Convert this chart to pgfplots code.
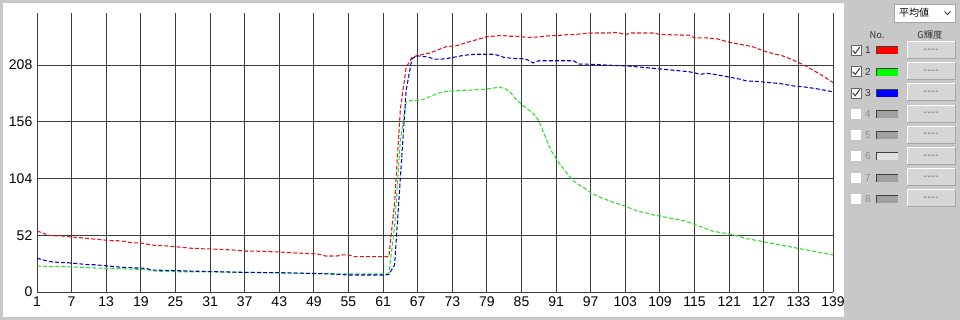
\documentclass[border=0pt]{standalone}
\usepackage{fontspec}
\setmainfont{Liberation Sans}
\newfontfamily\jp{Noto Sans CJK JP}
\usepackage{pgfplots}
\pgfplotsset{compat=1.18}
\definecolor{panel}{RGB}{200,200,200}
\definecolor{lred}{RGB}{225,20,20}
\definecolor{lgreen}{RGB}{40,225,40}
\definecolor{lblue}{RGB}{0,0,200}
\definecolor{gridc}{RGB}{60,60,60}
\begin{document}
\begin{tikzpicture}
\useasboundingbox (0,0) rectangle (720pt,240pt);
\fill[panel] (0,0) rectangle (720pt,240pt);
\fill[white] (2.25pt,2.25pt) rectangle (633pt,237.75pt);
\begin{axis}[
  at={(27.75pt,21pt)}, anchor=south west,
  scale only axis, width=597pt, height=209.4pt,
  xmin=1, xmax=139, ymin=0, ymax=256,
  xtick={1,7,...,139}, ytick={0,52,104,156,208},
  grid=major, major grid style={gridc, line width=0.7pt},
  axis line style={draw=none},
  major tick length=0pt,
  tick label style={font=\fontsize{10.5}{11}\selectfont},
  /pgf/number format/assume math mode=true,
  every axis plot/.append style={line width=0.8pt, dash pattern=on 3pt off 1.6pt},
]
\addplot[lred] coordinates {
(1,56)(2,54)(3,52)(4,51.5)(5,51.5)(6,51)(7,50.5)(8,50)(9,49.5)(10,49)(11,48.5)(12,48)(13,47.5)(14,47)(15,47)(16,46.5)(17,45.5)(18,45)(19,45)(20,44)(21,43)(22,42.5)(23,42.5)(24,42)(25,41.5)(26,41)(27,40.5)(28,40)(29,40)(30,39.5)(31,39.5)(33,39)(35,38.5)(37,37.6)(39,37.5)(41,37)(43,36.7)(45,36)(47,35.5)(49,35)(50,34.5)(51,33)(53,33)(54,34)(55,34)(56,32.5)(58,32.4)(60,32.4)(62,32.4)
(63,82)(64,168)(65,206)(66,215)(67,217)(68,218)(69,219)(70,221)(71,223)(72,225)(73,225.5)(74,226)(75,228)(76,229.5)(77,231)(78,232.5)(79,234)(80,234.5)(81,235)(82,235)(83,234.5)(84,234.5)(85,234)(86,233.5)(87,233.5)(88,234)(89,234.5)(90,235)(91,235)(92,235.5)(93,236)(94,236)(95,236.5)(96,237)(97,237.5)(98,237.5)(100,237.5)(101,238)(102,237.5)(103,236)(104,237.5)(106,237.5)(108,237.5)(109,236)(110,236)(112,235.7)(114,235.5)(115,233)(117,233)(119,232)(120,230.5)(121,229)(122,228)(123,227)(124,226)(125,225)(126,223)(127,221)(128,219.5)(129,218)(130,217)(131,215)(132,213)(133,210.5)(134,208)(135,205)(136,202)(137,199)(138,195.5)(139,192)
};
\addplot[lgreen] coordinates {
(1,24)(2,23.5)(3,23.5)(5,23.5)(7,23)(9,22.5)(11,22)(13,21.7)(15,21.5)(17,21)(19,20.8)(20,20.5)(21,19.5)(22,19)(25,18.6)(31,18.5)(37,18)(43,17.5)(49,17)(55,16.5)(61,16.5)(62,17)
(63,60)(64,140)(65,174)(66,176)(67,175.5)(68,176.5)(69,179)(70,181)(71,183)(72,184)(73,184.5)(74,184.5)(75,185)(76,185)(77,185.5)(78,185.5)(79,186)(80,187)(81,187.5)(82,187)(83,183.5)(84,177)(85,172)(86,168)(87,164)(88,157)(89,144)(90,131)(91,122)(92,115)(93,108)(94,102)(95,98)(96,95)(97,91)(98,88.5)(99,86)(100,84)(101,82)(102,80.5)(103,78.5)(104,76.5)(105,74.5)(106,73)(107,72)(108,70.5)(109,69.7)(110,68.5)(111,67.5)(112,66.5)(113,65.5)(114,64)(115,62)(116,60)(117,58)(118,56)(119,55)(120,54)(121,53.5)(122,52)(123,50.5)(124,49)(125,48)(126,47)(127,46)(128,45)(129,44)(130,43)(131,42)(132,41)(133,40)(134,39)(135,38)(136,37)(137,36)(138,35)(139,34)
};
\addplot[lblue] coordinates {
(1,31)(2,29.5)(3,28)(4,27.5)(5,27)(6,27)(7,26.5)(8,26)(9,25.5)(10,25)(11,25)(12,24.5)(13,24)(14,23.5)(15,23)(16,22.5)(17,22.5)(18,22)(19,22)(20,21.5)(21,20)(22,20)(25,19.6)(31,18.7)(33,18.5)(37,18)(43,17.7)(49,17)(52,16.5)(55,15.6)(61,15.6)(62,16)
(63,25)(64,105)(65,185)(66,214)(67,216.5)(68,216)(69,215)(70,213.5)(71,213.5)(72,214)(73,215)(74,216)(75,217)(76,217.5)(77,218)(78,218)(79,218)(80,218)(81,217)(82,215)(83,214.5)(84,214)(85,214)(86,213)(87,210)(88,212)(89,212)(91,212)(93,212)(94,212)(95,209)(96,209)(98,208.5)(100,208)(102,207.5)(104,207)(106,206)(108,205)(110,204)(112,203)(114,202)(115,201)(116,199.5)(117,200.5)(118,200)(120,198)(121,197)(122,196)(123,195)(124,193.5)(126,193)(128,192)(130,191)(132,189)(134,188)(136,186.5)(138,184.5)(139,183.5)
};
\end{axis}
\begin{scope}[x=0.75pt,y=-0.75pt,yshift=240pt]
  \fill[white] (894,4) rectangle (955,22);
  \draw[gray!70, line width=0.5pt] (894,4) rectangle (955,22);
  \node[font=\jp\fontsize{7.5}{8}\selectfont, inner sep=0pt] at (914,13) {平均値};
  \draw[line width=0.6pt, black!80] (944.5,11.5) -- (947.5,14.5) -- (950.5,11.5);
  \node[font=\jp\fontsize{7}{8}\selectfont, inner sep=0pt, text=black!80] at (877,35) {No.};
  \node[font=\jp\fontsize{7}{8}\selectfont, inner sep=0pt, text=black!80] at (930,35) {G輝度};
  \foreach \i/\c/\chk/\tc in {1/red/1/black!80, 2/green/1/black!80, 3/blue/1/black!80, 4/black!37/0/black!45, 5/black!37/0/black!45, 6/black!12/0/black!45, 7/black!37/0/black!45, 8/black!37/0/black!45} {
    \pgfmathsetmacro{\yy}{50.5+21.2*(\i-1)}
    \fill[white] (851,\yy-5) rectangle (861,\yy+5);
    \ifnum\chk=1
      \draw[black!60, line width=0.5pt] (851,\yy-5) rectangle (861,\yy+5);
      \draw[black!75, line width=0.8pt] (852.7,\yy) -- (855.2,\yy+2.8) -- (859.8,\yy-3.5);
    \fi
    \node[font=\fontsize{7.5}{8}\selectfont, inner sep=0pt, text=\tc] at (868,\yy) {\i};
    \fill[\c] (876,\yy-4) rectangle (898,\yy+4);
    \draw[black!75, line width=0.6pt] (876.4,\yy+4) -- (876.4,\yy-3.6) -- (898,\yy-3.6);
    \fill[black!16] (907,\yy-9) rectangle (955,\yy+8);
    \draw[white, line width=0.6pt] (907,\yy+8) -- (907,\yy-9) -- (955,\yy-9);
    \draw[black!35, line width=0.6pt] (955,\yy-9) -- (955,\yy+8) -- (907,\yy+8);
    \node[font=\fontsize{8}{9}\selectfont, inner sep=0pt, text=black!55] at (931,\yy) {-\kern0.3pt-\kern0.3pt-\kern0.3pt-};
  }
\end{scope}
\end{tikzpicture}
\end{document}
